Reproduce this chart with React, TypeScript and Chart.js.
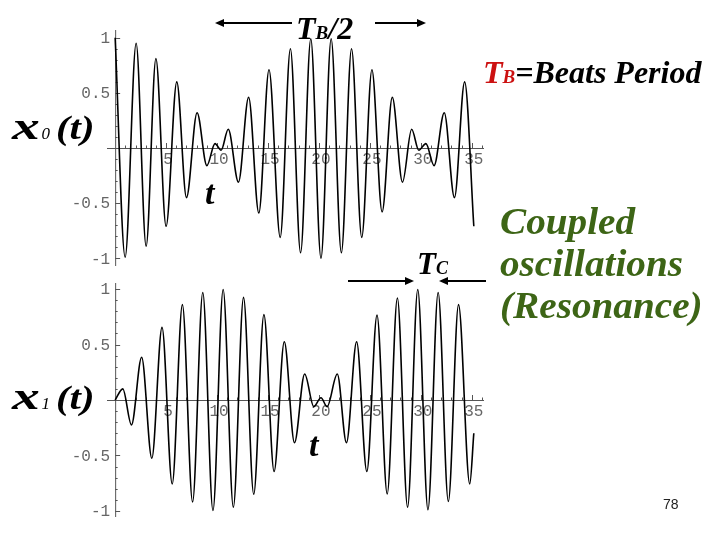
import React, { useEffect, useRef } from "react";
import { Chart, registerables } from "chart.js";

Chart.register(...registerables);

// ---- data (extrema of the curves) ----
const t0 = [0, 0.98, 2.06, 3.04, 4.0, 5.0, 6.05, 7.0, 8.04, 9.0, 9.8, 10.4, 11.1, 12.1, 13.1, 14.1, 15.1, 16.2, 17.2, 18.2, 19.2, 20.2, 21.2, 22.2, 23.2, 24.2, 25.2, 26.2, 27.2, 28.2, 29.1, 29.8, 30.5, 31.3, 32.3, 33.3, 34.3, 35.2];
const x0 = [1.0, -0.99, 0.95, -0.89, 0.81, -0.71, 0.6, -0.45, 0.32, -0.16, 0.04, -0.02, 0.17, -0.31, 0.46, -0.59, 0.71, -0.81, 0.9, -0.95, 0.99, -1.0, 0.99, -0.95, 0.9, -0.81, 0.71, -0.58, 0.46, -0.31, 0.17, -0.02, 0.04, -0.16, 0.32, -0.45, 0.6, -0.71];

const t1 = [0, 0.75, 1.6, 2.6, 3.6, 4.6, 5.6, 6.6, 7.6, 8.6, 9.6, 10.6, 11.6, 12.6, 13.6, 14.6, 15.6, 16.6, 17.6, 18.6, 19.5, 20.2, 20.8, 21.8, 22.7, 23.7, 24.7, 25.7, 26.7, 27.7, 28.7, 29.7, 30.7, 31.7, 32.7, 33.7, 34.8, 35.2];
const x1 = [0, 0.1, -0.225, 0.385, -0.525, 0.655, -0.757, 0.86, -0.92, 0.97, -0.997, 0.997, -0.967, 0.925, -0.85, 0.77, -0.645, 0.525, -0.385, 0.235, -0.06, 0.02, -0.06, 0.235, -0.385, 0.525, -0.645, 0.765, -0.847, 0.92, -0.967, 0.997, -0.99, 0.97, -0.915, 0.86, -0.757, -0.3];

const xTickValues = [5, 10, 15, 20, 25, 30, 35];
const xTickLabels = ["5", "10", "15", "20", "25", "30", "35"];
const yTickValues = [-1, -0.5, 0.5, 1];
const yTickLabels = ["-1", "-0.5", "0.5", "1"];

const X_MIN = -0.8;
const X_MAX = 36.2;

const axesPlugin = {
  id: "mmaAxes",
  beforeDatasetsDraw(chart: any) {
    const { ctx, chartArea: a, scales } = chart;
    const sx = scales.x;
    const sy = scales.y;
    const ox = sx.getPixelForValue(0);
    const oy = sy.getPixelForValue(0);
    ctx.save();
    ctx.strokeStyle = "#555";
    ctx.lineWidth = 1;
    ctx.beginPath();
    ctx.moveTo(a.left, oy + 0.5);
    ctx.lineTo(a.right, oy + 0.5);
    ctx.moveTo(ox + 0.5, a.top);
    ctx.lineTo(ox + 0.5, a.bottom);
    ctx.stroke();
    // ticks
    ctx.beginPath();
    for (let i = 1; i <= 36; i++) {
      const px = Math.round(sx.getPixelForValue(i)) + 0.5;
      const len = i % 5 === 0 ? 5 : 2.5;
      ctx.moveTo(px, oy);
      ctx.lineTo(px, oy - len);
    }
    for (let i = -10; i <= 10; i++) {
      if (i === 0) continue;
      const py = Math.round(sy.getPixelForValue(i / 10)) + 0.5;
      const len = i % 5 === 0 ? 5 : 2.5;
      ctx.moveTo(ox, py);
      ctx.lineTo(ox + len, py);
    }
    ctx.stroke();
    // labels
    ctx.fillStyle = "#666";
    ctx.font = '16px "Liberation Mono", "DejaVu Sans Mono", monospace';
    ctx.textAlign = "center";
    ctx.textBaseline = "top";
    xTickValues.forEach((v, i) => {
      ctx.fillText(xTickLabels[i], sx.getPixelForValue(v) + 2, oy + 4);
    });
    ctx.textAlign = "right";
    ctx.textBaseline = "middle";
    yTickValues.forEach((v, i) => {
      ctx.fillText(yTickLabels[i], ox - 5, sy.getPixelForValue(v) + 1);
    });
    ctx.restore();
  },
};

function makeChart(canvas: HTMLCanvasElement, ts: number[], vs: number[], yLim: number, pad: any) {
  return new Chart(canvas, {
    type: "line",
    data: {
      datasets: [
        {
          data: ts.map((t, i) => ({ x: t, y: vs[i] })),
          borderColor: "#000",
          borderWidth: 1.6,
          pointRadius: 0,
          fill: false,
          cubicInterpolationMode: "monotone",
        },
      ],
    },
    options: {
      responsive: false,
      animation: false,
      layout: { padding: pad },
      plugins: { legend: { display: false }, tooltip: { enabled: false } },
      scales: {
        x: { type: "linear", min: X_MIN, max: X_MAX, display: false },
        y: { type: "linear", min: -yLim, max: yLim, display: false },
      },
    },
    plugins: [axesPlugin],
  } as any);
}

const serif = '"Liberation Serif", "Times New Roman", serif';

function Arrow({ from, to, y }: { from: number; to: number; y: number }) {
  const dir = Math.sign(to - from);
  const hl = 9;
  const hw = 4;
  return (
    <g>
      <line x1={from} y1={y} x2={to - dir * hl} y2={y} stroke="#000" strokeWidth={2} />
      <polygon points={`${to},${y} ${to - dir * hl},${y - hw} ${to - dir * hl},${y + hw}`} fill="#000" />
    </g>
  );
}

function VarLabel({ sub, left, top }: { sub: string; left: number; top: number }) {
  const bi: React.CSSProperties = { fontFamily: serif, fontWeight: "bold", fontStyle: "italic", position: "absolute", lineHeight: 1, whiteSpace: "nowrap" };
  return (
    <div style={{ ...bi, left, top, fontSize: 34 }}>
      <span style={{ display: "inline-block", fontSize: 37, transform: "scaleX(1.5)", transformOrigin: "left", marginRight: 11 }}>x</span>
      <span style={{ fontSize: 17, fontWeight: "normal" }}>{sub}</span>
      <span style={{ display: "inline-block", transform: "scaleX(1.2)", transformOrigin: "left", marginLeft: 6 }}>(t)</span>
    </div>
  );
}

export default function App() {
  const topRef = useRef<HTMLCanvasElement>(null);
  const botRef = useRef<HTMLCanvasElement>(null);

  useEffect(() => {
    const c1 = makeChart(topRef.current!, t0, x0, 1.07, { left: 107, right: 236, top: 30, bottom: 274 });
    const c2 = makeChart(botRef.current!, t1, x1, 1.055, { left: 107, right: 236, top: 283, bottom: 23 });
    return () => {
      c1.destroy();
      c2.destroy();
    };
  }, []);

  const bi: React.CSSProperties = { fontFamily: serif, fontWeight: "bold", fontStyle: "italic", position: "absolute", lineHeight: 1, whiteSpace: "nowrap", margin: 0 };

  return (
    <div style={{ position: "fixed", left: 0, top: 0, width: 720, height: 540, background: "#fff", overflow: "hidden" }}>
      <canvas ref={topRef} width={720} height={540} style={{ position: "absolute", left: 0, top: 0 }} />
      <canvas ref={botRef} width={720} height={540} style={{ position: "absolute", left: 0, top: 0 }} />
      <svg width={720} height={540} style={{ position: "absolute", left: 0, top: 0 }}>
        <Arrow from={292} to={215} y={23} />
        <Arrow from={375} to={426} y={23} />
        <Arrow from={348} to={414} y={281} />
        <Arrow from={486} to={439} y={281} />
      </svg>

      <div style={{ ...bi, left: 296, top: 12, fontSize: 32 }}>
        T<span style={{ fontSize: 19 }}>B</span>/2
      </div>
      <div style={{ ...bi, left: 483, top: 56, fontSize: 32 }}>
        <span style={{ color: "#cc1111" }}>
          T<span style={{ fontSize: 19 }}>B</span>
        </span>
        =Beats Period
      </div>
      <div style={{ ...bi, left: 417, top: 248, fontSize: 31 }}>
        T<span style={{ fontSize: 18 }}>C</span>
      </div>
      <div style={{ ...bi, left: 500, top: 201, fontSize: 37, lineHeight: "42px", color: "#3d6516", transform: "scaleX(1.06)", transformOrigin: "left top" }}>
        Coupled
        <br />
        oscillations
        <br />
        (Resonance)
      </div>

      <VarLabel sub="0" left={12} top={108} />
      <VarLabel sub="1" left={12} top={378} />

      <div style={{ ...bi, left: 205, top: 176, fontSize: 34 }}>t</div>
      <div style={{ ...bi, left: 309, top: 428, fontSize: 34 }}>t</div>

      <div style={{ position: "absolute", left: 663, top: 496, fontSize: 14, fontFamily: '"Liberation Sans", Arial, sans-serif', color: "#222" }}>78</div>
    </div>
  );
}
